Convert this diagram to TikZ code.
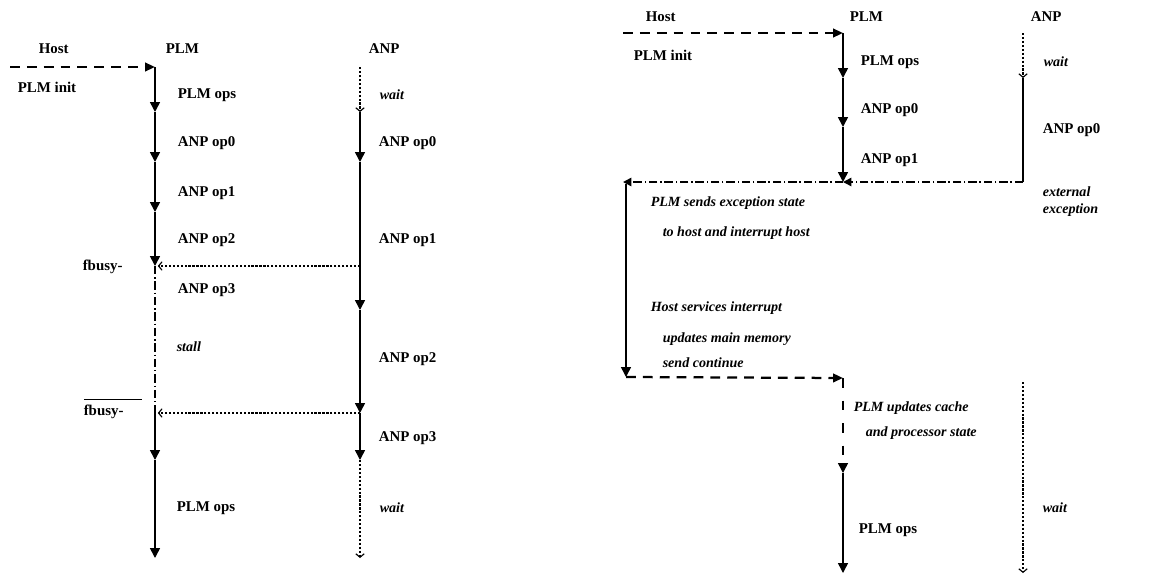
\documentclass[tikz,border=0pt]{standalone}
\usepackage{fontspec}
\setmainfont{Liberation Serif}
\usetikzlibrary{arrows.meta, positioning, calc}
\tikzset{
  every picture/.style={line width=1.1pt},
  lbl/.style={font=\bfseries\fontsize{10.6}{12}\selectfont, anchor=west, inner sep=0pt},
  itl/.style={font=\bfseries\itshape\fontsize{10}{12}\selectfont, anchor=west, inner sep=0pt, align=left},
  arrow/.style={-{Triangle[length=7pt, width=7pt]}, line width=1.1pt},
  host/.style={-{Triangle[length=7pt, width=6pt]}, line width=1.6pt, dash pattern=on 7pt off 5pt},
  idle/.style={-{Straight Barb[length=2.5pt, width=6pt]}, line width=0.8pt, dash pattern=on 1.6pt off 1.2pt},
  signal/.style={-{Straight Barb[length=2.5pt, width=6pt]}, line width=0.8pt, dash pattern=on 1.6pt off 1.2pt, shorten >=2pt},
  stallline/.style={line width=1.1pt, dash pattern=on 6pt off 2pt on 1pt off 2pt},
  exc/.style={-{Triangle[length=6pt, width=6pt]}, line width=1.1pt, dash pattern=on 6pt off 2pt on 1pt off 2pt},
  resume/.style={-{Triangle[length=7pt, width=7pt]}, line width=1.1pt, dash pattern=on 7pt off 9pt},
}

\begin{document}
\begin{tikzpicture}[x=0.025cm, y=-0.025cm]
  \useasboundingbox (0,0) rectangle (1160,580);
  % (a) fbusy stall
  \begin{scope}
    \node[lbl] (hostA) at (38,49) {Host};
    \node[lbl] (plmA) at (165,49) {PLM};
    \node[lbl] (anpA) at (368,49) {ANP};
    \coordinate (h0) at (10,67);
    \foreach \n/\y in {0/67, 1/112, 2/162, 3/212, 4/266, 5/413, 6/460, 7/558}
      \coordinate (p\n) at (155,\y);
    \foreach \n/\y in {0/67, 1/112, 2/162, 3/266, 4/310, 5/413, 6/460, 7/558}
      \coordinate (a\n) at (360,\y);
    \draw[host] (h0) -- (p0);
    \foreach \a/\c in {p0/p1, p1/p2, p2/p3, p3/p4, p5/p6, p6/p7} \draw[arrow] (\a) -- (\c);
    \draw[stallline] (p4) -- (p5);
    \draw[idle] (a0) -- (a1); \draw[arrow] (a1) -- (a2); \draw (a2) -- (a3);
    \foreach \a/\c in {a3/a4, a4/a5, a5/a6} \draw[arrow] (\a) -- (\c);
    \draw[idle] (a6) -- (a7);
    \draw[signal] (a3) -- (p4);
    \draw[signal] (a5) -- (p5);
    \node[lbl] (initA) at (17,87) {PLM init};
    \node[lbl] (pops1) at (177,95) {PLM ops};
    \node[lbl] (pop0) at (177,143) {ANP op0};
    \node[lbl] (pop1) at (177,193) {ANP op1};
    \node[lbl] (pop2) at (177,240) {ANP op2};
    \node[lbl] (pop3) at (177,290) {ANP op3};
    \node[itl] (stall) at (176,347) {stall};
    \node[lbl] (pops2) at (176,508) {PLM ops};
    \node[itl] (wait1) at (379,95) {wait};
    \node[lbl] (aop0) at (378,143) {ANP op0};
    \node[lbl] (aop1) at (378,240) {ANP op1};
    \node[lbl] (aop2) at (378,359) {ANP op2};
    \node[lbl] (aop3) at (378,438) {ANP op3};
    \node[itl] (wait2) at (379,508) {wait};
    \node[lbl] (busy) at (82,267) {fbusy-};
    \node[lbl] (nbusy) at (83,409) {\makebox[0pt][l]{\raisebox{2.3ex}{\rule{1.45cm}{0.7pt}}}fbusy-};
  \end{scope}
  % (b) external exception
  \begin{scope}
    \node[lbl] (hostB) at (645,17) {Host};
    \node[lbl] (plmB) at (849,17) {PLM};
    \node[lbl] (anpB) at (1030,17) {ANP};
    \coordinate (rh0) at (623,33);
    \coordinate (rh1) at (623,182);
    \coordinate (rh2) at (626,377);
    \coordinate (rh3) at (626,184);
    \foreach \n/\y in {0/33, 1/78, 2/127, 3/182, 4/378, 5/473, 6/573}
      \coordinate (rp\n) at (843,\y);
    \foreach \n/\y in {0/33, 1/78, 2/182, 3/382, 4/573}
      \coordinate (ra\n) at (1023,\y);
    \draw[host] (rh0) -- (rp0);
    \foreach \a/\c in {rp0/rp1, rp1/rp2, rp2/rp3} \draw[arrow] (\a) -- (\c);
    \draw[idle] (ra0) -- (ra1); \draw (ra1) -- (ra2);
    \draw[exc] (ra2) -- (rp3);
    \draw[exc] (rp3) -- (rh1);
    \draw[arrow] (rh3) -- (rh2);
    \draw[host] (rh2) -- (rp4);
    \draw[resume] (rp4) -- (rp5);
    \draw[arrow] (rp5) -- (rp6);
    \draw[idle] (ra3) -- (ra4);
    \node[lbl] (initB) at (633,55) {PLM init};
    \node[lbl] (qops1) at (860,62) {PLM ops};
    \node[lbl] (qop0) at (860,110) {ANP op0};
    \node[lbl] (qop1) at (860,160) {ANP op1};
    \node[itl] (wait3) at (1043,62) {wait};
    \node[lbl] (bop0) at (1042,130) {ANP op0};
    \node[itl] (ext) at (1042,202) {external\\exception};
    \node[itl] (send) at (650,203) {PLM sends exception state};
    \node[itl] (irq) at (662,233) {to host and interrupt host};
    \node[itl] (serv) at (650,308) {Host services interrupt};
    \node[itl] (mem) at (662,339) {updates main memory};
    \node[itl] (cont) at (662,363) {send continue};
    \node[itl] (cache) at (853,408) {PLM updates cache};
    \node[itl] (proc) at (865,433) {and processor state};
    \node[lbl] (qops2) at (858,530) {PLM ops};
    \node[itl] (wait4) at (1042,508) {wait};
  \end{scope}
\end{tikzpicture}
\end{document}
